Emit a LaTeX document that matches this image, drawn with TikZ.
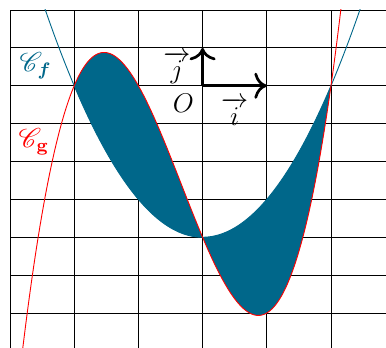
\documentclass[tikz,border=0pt]{standalone}
\usepackage{amsmath,amssymb,bm}
\usepackage{mathrsfs}
\usepackage{tikz}
\usetikzlibrary{arrows.meta}
\definecolor{bleuf}{RGB}{0,103,138}

\begin{document}
\begin{tikzpicture}[x=1cm,y=0.59cm,font=\large]
    \useasboundingbox (-3.156,-6.898) rectangle (2.857,2.264);
    \begin{scope}
      \clip (-3.01,-6.898) rectangle (2.857,2.01);
      \foreach \a in {-3,...,2}
        \draw[thin] (\a,-7) -- (\a,2);
      \foreach \b in {-6,...,2}
        \draw[thin] (-3,\b) -- (3,\b);
      \fill[bleuf] plot[domain=-2:2,samples=120,smooth] (\x,{(\x*\x-4)*(\x+1)})
        -- plot[domain=2:-2,samples=120,smooth] (\x,{\x*\x-4}) -- cycle;
      \draw[bleuf] plot[domain=-2.6:2.6,samples=120,smooth] (\x,{\x*\x-4});
      \draw[red] plot[domain=-2.9:2.3,samples=160,smooth] (\x,{(\x*\x-4)*(\x+1)});
    \end{scope}
    \coordinate (O) at (0,0);
    \coordinate (I) at (1,0);
    \coordinate (J) at (0,1);
    \draw[very thick,-{To[scale=1.3]}] (O) -- (I);
    \draw[very thick,-{To[scale=1.3]}] (O) -- (J);
    \node (nomO) at (-0.30,-0.47) {$O$};
    \node (nomi) at (0.5,-0.68) {$\overrightarrow{i}$};
    \node (nomj) at (-0.4,0.48) {$\overrightarrow{j}$};
    \node[text=bleuf] (nomCf) at (-2.60,0.53) {$\mathscr{C}_{\bm{f}}$};
    \node[text=red] (nomCg) at (-2.63,-1.48) {$\mathscr{C}_{\mathbf{g}}$};
  \end{tikzpicture}
\end{document}
